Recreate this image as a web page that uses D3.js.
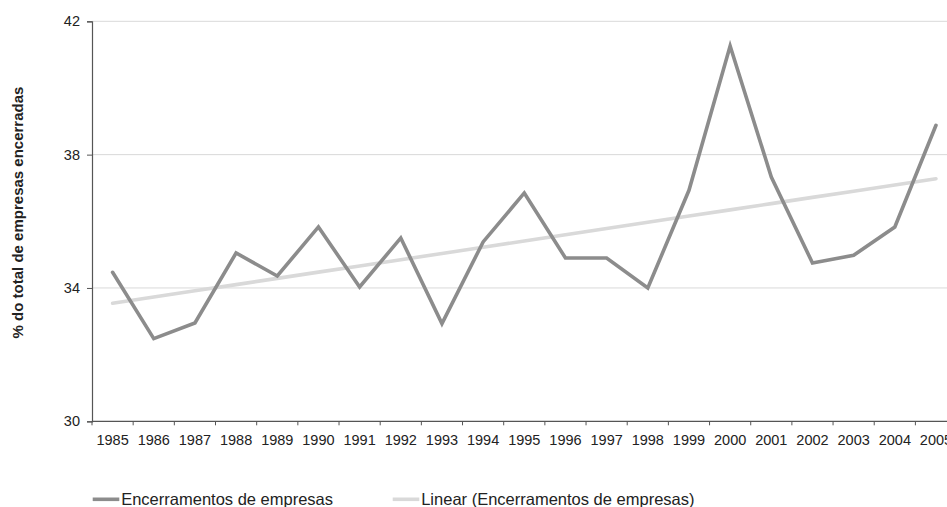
<!DOCTYPE html>
<html>
<head>
<meta charset="utf-8">
<script src="https://cdn.jsdelivr.net/npm/d3@7"></script>
<style>
  html, body { margin: 0; padding: 0; background: #fff; overflow: hidden; }
  svg { display: block; font-family: "Liberation Sans", Arial, sans-serif; }
</style>
</head>
<body>
<svg id="chart" width="947" height="507"></svg>
<script>
// Share of closed companies per year
const years = ["1985","1986","1987","1988","1989","1990","1991","1992","1993","1994","1995",
               "1996","1997","1998","1999","2000","2001","2002","2003","2004","2005"];
const closures = [34.47, 32.48, 32.95, 35.05, 34.36, 35.83, 34.03, 35.5, 32.93, 35.38, 36.85,
                  34.9, 34.9, 34.0, 36.93, 41.26, 37.33, 34.75, 34.98, 35.83, 38.88];
const yTicks = [30, 34, 38, 42];
const seriesNames = ["Encerramentos de empresas", "Linear (Encerramentos de empresas)"];

// Least-squares trend of the series
const n = closures.length;
const xMean = (n - 1) / 2;
const yMean = d3.mean(closures);
let sxy = 0, sxx = 0;
closures.forEach((v, i) => { sxy += (i - xMean) * (v - yMean); sxx += (i - xMean) ** 2; });
const slope = sxy / sxx;
const trend = closures.map((_, i) => yMean + slope * (i - xMean));

const svg = d3.select("#chart");
const plotLeft = 92, plotTop = 21.3, plotBottom = 421.3, bandStep = 41.17;

const x = d3.scaleBand().domain(years).range([plotLeft, plotLeft + bandStep * years.length]);
const y = d3.scaleLinear().domain([30, 42]).range([plotBottom, plotTop]);
const cx = d => x(d) + x.bandwidth() / 2;

// Horizontal gridlines
svg.append("g").selectAll("line")
  .data(yTicks.filter(t => t > 30))
  .join("line")
  .attr("x1", plotLeft).attr("x2", 947)
  .attr("y1", d => y(d)).attr("y2", d => y(d))
  .attr("stroke", "#d9d9d9").attr("stroke-width", 1);

// Y axis
const yAxis = svg.append("g")
  .attr("transform", `translate(${plotLeft},0)`)
  .call(d3.axisLeft(y).tickValues(yTicks).tickSize(5).tickPadding(7).tickFormat(d3.format("d")));
yAxis.select(".domain").attr("stroke", "#555").attr("stroke-width", 1.2);
yAxis.selectAll(".tick line").attr("stroke", "#555");
yAxis.selectAll("text").attr("font-size", "14.5px").attr("fill", "#222")
  .attr("font-family", "Liberation Sans, Arial, sans-serif");

// X axis: labels centred in bands, ticks on band edges
const xAxis = svg.append("g")
  .attr("transform", `translate(0,${plotBottom})`)
  .call(d3.axisBottom(x).tickSize(0).tickPadding(13));
xAxis.select(".domain").remove();
xAxis.selectAll("text").attr("font-size", "14.5px").attr("fill", "#222")
  .attr("font-family", "Liberation Sans, Arial, sans-serif");
svg.append("line")
  .attr("x1", plotLeft).attr("x2", 947).attr("y1", plotBottom).attr("y2", plotBottom)
  .attr("stroke", "#555").attr("stroke-width", 1.2);
svg.append("g").selectAll("line")
  .data(years)
  .join("line")
  .attr("x1", d => x(d)).attr("x2", d => x(d))
  .attr("y1", plotBottom).attr("y2", plotBottom + 4)
  .attr("stroke", "#555");

// Y axis title
svg.append("text")
  .attr("transform", `translate(17.5,212.5) rotate(-90)`)
  .attr("text-anchor", "middle")
  .attr("dy", "0.35em")
  .attr("font-size", "15px")
  .attr("font-weight", "bold")
  .attr("fill", "#222")
  .text("% do total de empresas encerradas");

// Trend line
const line = d3.line().x((d, i) => cx(years[i])).y(d => y(d));
svg.append("path")
  .datum(trend)
  .attr("d", line)
  .attr("fill", "none")
  .attr("stroke", "#d9d9d9")
  .attr("stroke-width", 3.6)
  .attr("stroke-linecap", "round");

// Data line
svg.append("path")
  .datum(closures)
  .attr("d", line)
  .attr("fill", "none")
  .attr("stroke", "#8c8c8c")
  .attr("stroke-width", 3.6)
  .attr("stroke-linejoin", "miter")
  .attr("stroke-linecap", "round");

// Legend
const legendItems = [
  { name: seriesNames[0], color: "#8c8c8c", x0: 92.7 },
  { name: seriesNames[1], color: "#d9d9d9", x0: 392.7 }
];
const lg = svg.append("g").selectAll("g").data(legendItems).join("g");
lg.append("line")
  .attr("x1", d => d.x0).attr("x2", d => d.x0 + 26.6)
  .attr("y1", 499.3).attr("y2", 499.3)
  .attr("stroke", d => d.color).attr("stroke-width", 3.6);
lg.append("text")
  .attr("x", d => d.x0 + 28.5).attr("y", 505)
  .attr("font-size", "16.5px")
  .attr("fill", "#222")
  .text(d => d.name);
</script>
</body>
</html>
